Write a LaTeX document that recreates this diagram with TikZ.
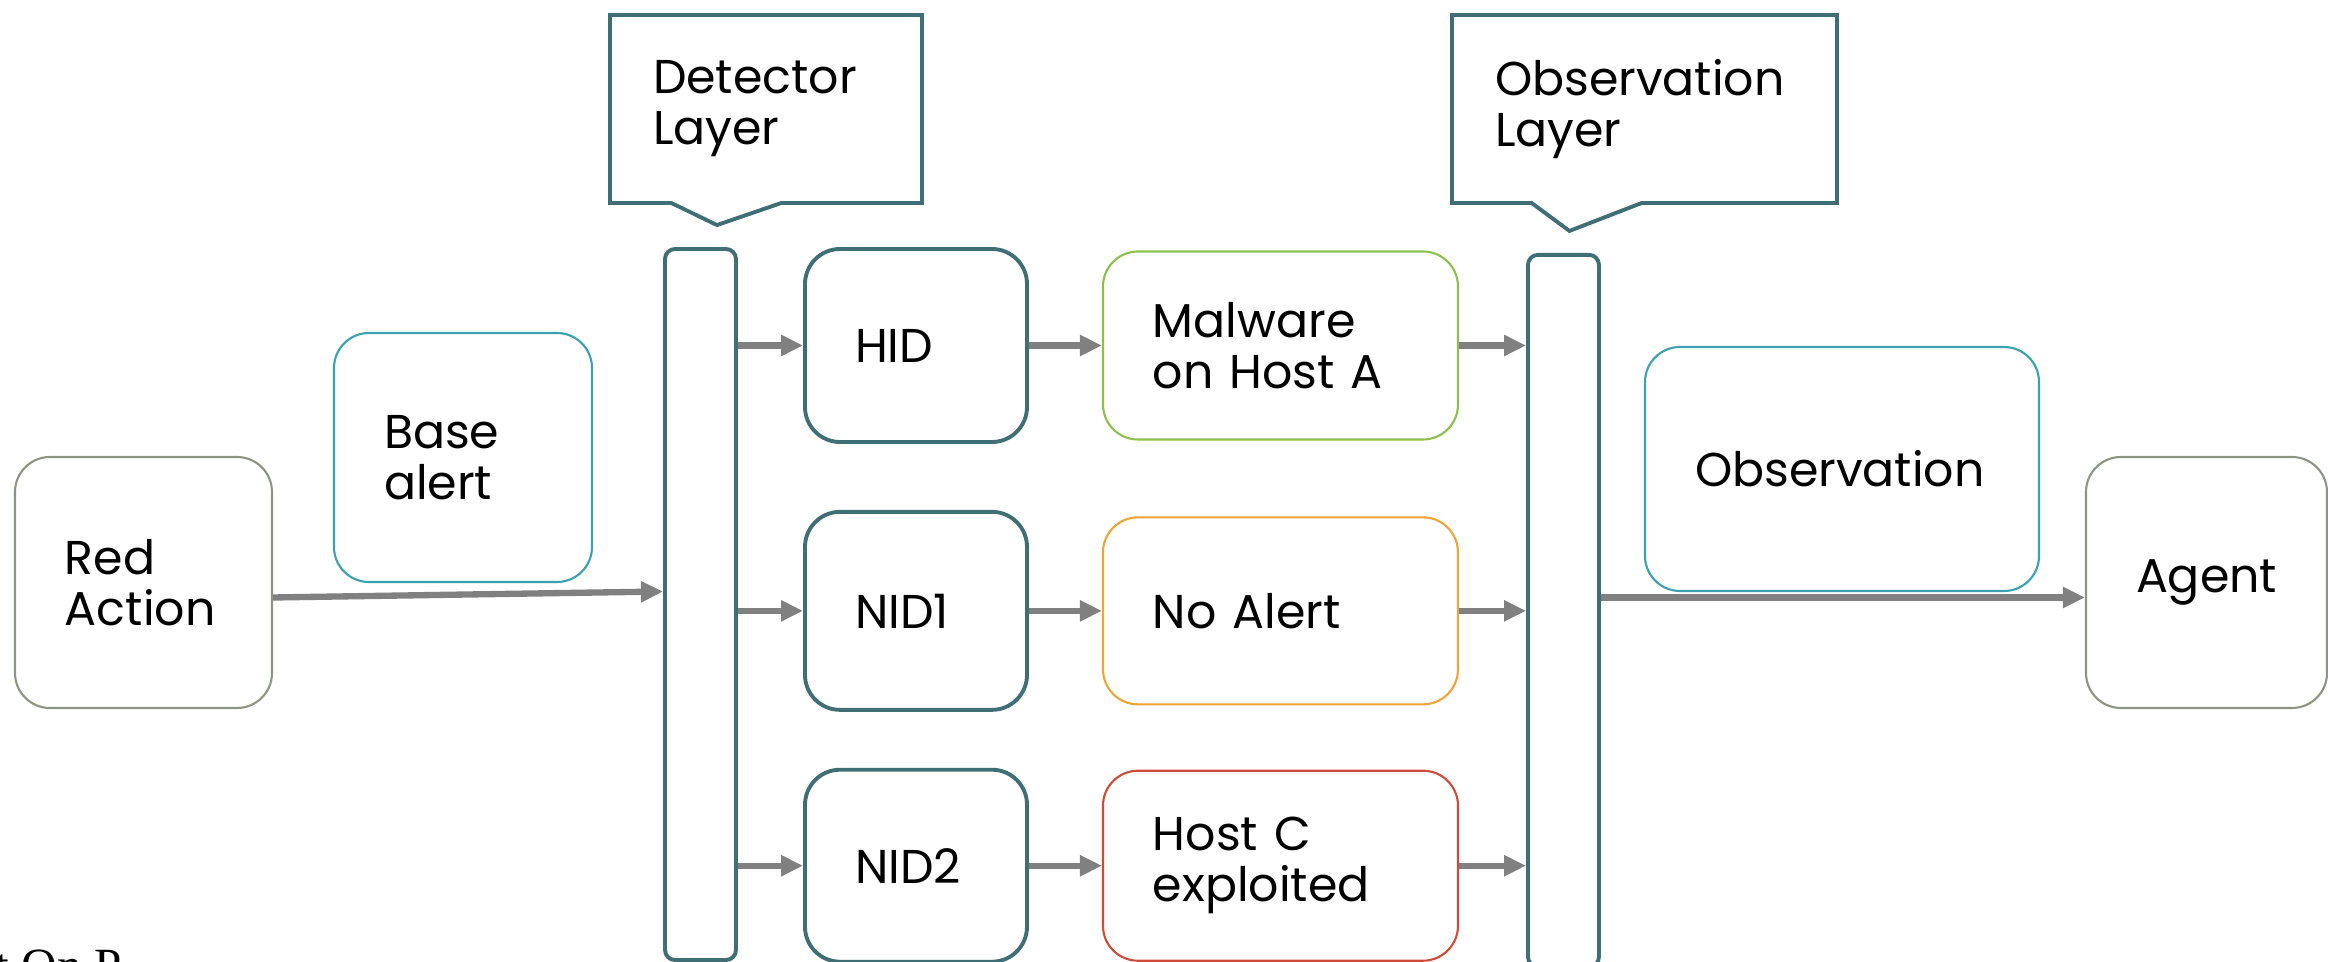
\documentclass[tikz,border=0pt]{standalone}
\usepackage{fontspec}
\setmainfont{Poppins}
\newfontfamily\cutfont{Liberation Serif}
\usetikzlibrary{positioning,calc,shapes.callouts,arrows.meta}
\definecolor{slate}{HTML}{3F6F75}
\definecolor{sage}{HTML}{8E9484}
\definecolor{cyanish}{HTML}{3BA0AF}
\definecolor{leaf}{HTML}{8CC04C}
\definecolor{amber}{HTML}{EEA537}
\definecolor{brick}{HTML}{CF4A38}
\definecolor{arrgray}{HTML}{808080}

\begin{document}
\begin{tikzpicture}[font=\fontsize{13.5}{14.5}\selectfont,
    rbox/.style={draw=#1,line width=0.6pt,rounded corners=0.35cm,
      inner xsep=0.5cm,inner ysep=0pt,align=left},
    dbox/.style={draw=slate,line width=1.1pt,rounded corners=0.35cm,
      inner xsep=0.5cm,inner ysep=0pt,align=left,text width=1.22cm},
    bar/.style={draw=slate,line width=1.1pt,rounded corners=0.1cm,
      inner sep=0pt,minimum width=0.71cm},
    call/.style={rectangle callout,draw=slate,line width=1.1pt,inner xsep=0.43cm,
      inner ysep=0pt,align=left,minimum height=1.88cm,callout pointer width=1.1cm},
    arr/.style={draw=arrgray,line width=1.8pt,-{Triangle[length=0.22cm,width=0.2cm]}}]
 \useasboundingbox (0,0) rectangle (23.28,-9.62);
 % sources and sink
 \node[rbox=sage,text width=1.57cm,minimum height=2.51cm] (ra) at (1.435,-5.825) {Red\\Action};
 \node[rbox=cyanish,text width=1.58cm,minimum height=2.49cm] (ba) at (4.63,-4.575) {Base\\alert};
 \node[rbox=sage,text width=1.41cm,minimum height=2.51cm] (ag) at (22.065,-5.825) {Agent};
 % detectors
 \node[dbox,minimum height=1.93cm] (hid) at (9.16,-3.455) {HID};
 \node[dbox,minimum height=1.98cm,below=0.66cm of hid] (nid1) {NID1};
 \node[dbox,minimum height=1.92cm,below=0.56cm of nid1] (nid2) {NID2};
 \node[rbox=leaf,text width=2.55cm,minimum height=1.88cm,right=0.73cm of hid] (mal) {Malware\\on Host A};
 \node[rbox=amber,text width=2.55cm,minimum height=1.87cm,right=0.73cm of nid1] (noal) {No Alert};
 \node[rbox=brick,text width=2.55cm,minimum height=1.90cm,right=0.73cm of nid2] (hostc) {Host C\\exploited};
 % layers
 \node[bar,minimum height=7.11cm] (det) at (7.005,-6.045) {};
 \node[bar,minimum height=7.12cm,right=0.67cm of noal] (obs) {};
 \node[call,text width=2.26cm,callout absolute pointer={([xshift=0.165cm,yshift=0.22cm]det.north)}] (detc)
  at (7.66,-1.09) {Detector\\Layer};
 \node[call,text width=2.99cm,callout absolute pointer={([xshift=0.06cm,yshift=0.22cm]obs.north)}] (obsc)
  at (16.445,-1.09) {Observation\\Layer};
 \node[rbox=cyanish,text width=2.94cm,minimum height=2.44cm] (obv) at (18.42,-4.69) {Observation};
 \node[font=\cutfont\fontsize{14}{16}\selectfont,anchor=base west,inner sep=0pt] (cut) at (-0.05,-9.83) {t On P};
 % arrows
 \draw[arr] ([yshift=-0.15cm]ra.east) -- ($(det.west |- ra.east)+(0,-0.09)$);
 \foreach \a/\b in {hid/mal,nid1/noal,nid2/hostc}
  {\draw[arr] (det.east |- \a) -- (\a);
   \draw[arr] (\a) -- (\b);
   \draw[arr] (\b) -- (obs.west |- \b);}
 \draw[arr] ($(obs.east |- ag.west)+(0,-0.15)$) -- ([yshift=-0.15cm]ag.west);
\end{tikzpicture}
\end{document}
